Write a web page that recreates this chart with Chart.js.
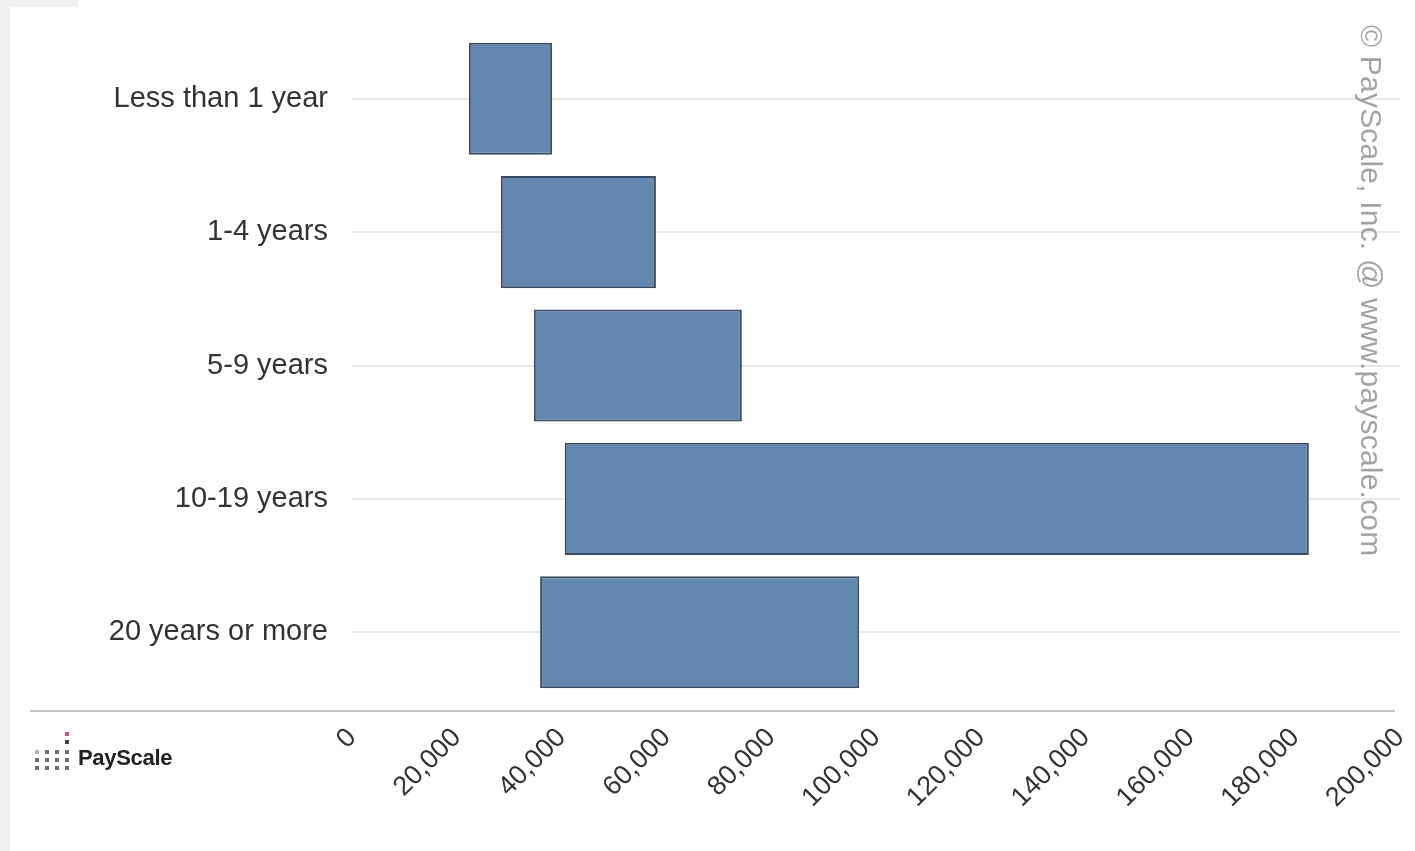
<!DOCTYPE html>
<html>
<head>
<meta charset="utf-8">
<script src="https://cdn.jsdelivr.net/npm/chart.js@4/dist/chart.umd.min.js"></script>
<style>
  html, body { margin: 0; padding: 0; background: #ffffff; }
  #wrap { position: relative; width: 1415px; height: 851px; overflow: hidden; }
  #wrap canvas { position: absolute; left: 0; top: 0; }
  #watermark {
    position: absolute; left: 1388px; top: 25px;
    transform-origin: 0 0; transform: rotate(90deg);
    font-family: "Liberation Sans", Arial, sans-serif; font-size: 30px;
    color: #a3a3a3; white-space: nowrap; letter-spacing: 0.2px;
  }
  #logo {
    position: absolute; left: 78px; top: 745px;
    font-family: "Liberation Sans", Arial, sans-serif; font-size: 22px; font-weight: bold;
    color: #222; white-space: nowrap; letter-spacing: -0.3px;
  }
</style>
</head>
<body>
<div id="wrap">
  <canvas id="c" width="1415" height="851"></canvas>
  <div id="watermark">© PayScale, Inc. @ www.payscale.com</div>
  <div id="logo">PayScale</div>
</div>
<script>
const categories = ["Less than 1 year", "1-4 years", "5-9 years", "10-19 years", "20 years or more"];
const rangeLow  = [22300, 28400, 34700, 40600, 35900];
const rangeHigh = [38200, 58000, 74400, 182600, 96800];
const xTicks = [0, 20000, 40000, 60000, 80000, 100000, 120000, 140000, 160000, 180000, 200000];

const decor = {
  id: 'decor',
  beforeDraw(chart) {
    const ctx = chart.ctx;
    ctx.save();
    ctx.fillStyle = '#ffffff';
    ctx.fillRect(0, 0, chart.width, chart.height);
    ctx.fillStyle = '#f2f1ef';
    ctx.fillRect(0, 0, 10, chart.height);
    ctx.fillRect(0, 0, 78, 7);
    ctx.restore();
  },
  afterDraw(chart) {
    const ctx = chart.ctx;
    ctx.save();
    // bottom separator line
    ctx.strokeStyle = '#c2c2c2';
    ctx.lineWidth = 2;
    ctx.beginPath();
    ctx.moveTo(30, 711);
    ctx.lineTo(chart.chartArea.right - 5, 711);
    ctx.stroke();
    // logo dots
    const cols = [37, 47, 57, 67];
    const rows = [752, 760, 768];
    cols.forEach((x, c) => rows.forEach((y, r) => {
      ctx.fillStyle = (c === 0 && r === 0) ? '#b5b5b5' : '#6e6e6e';
      ctx.fillRect(x - 2, y - 2, 4, 4);
    }));
    ctx.fillStyle = '#444';
    ctx.fillRect(65, 740, 4, 4);
    ctx.fillStyle = '#c75a70';
    ctx.fillRect(65, 732, 4, 4);
    ctx.restore();
  }
};

new Chart(document.getElementById('c'), {
  type: 'bar',
  data: {
    labels: categories,
    datasets: [{
      data: categories.map((_, i) => [rangeLow[i], rangeHigh[i]]),
      backgroundColor: '#6489b1',
      borderColor: '#3b4c61',
      borderWidth: 2,
      borderSkipped: false,
      categoryPercentage: 1,
      barPercentage: 0.84
    }]
  },
  options: {
    indexAxis: 'y',
    responsive: false,
    animation: false,
    devicePixelRatio: 1,
    layout: { padding: { top: 32, right: 15, left: 0, bottom: 0 } },
    plugins: { legend: { display: false }, tooltip: { enabled: false } },
    scales: {
      x: {
        type: 'linear',
        min: 0, max: 200000,
        afterBuildTicks(scale) { scale.ticks = xTicks.map(v => ({ value: v })); },
        afterFit(scale) { scale.height = 152; scale.paddingLeft = 0; scale.paddingRight = 0; },
        grid: { display: false },
        border: { display: false },
        ticks: {
          minRotation: 45, maxRotation: 45,
          padding: 15,
          color: '#333',
          font: { family: '"Liberation Sans", Arial, sans-serif', size: 27 },
          callback: v => v.toLocaleString('en-US')
        }
      },
      y: {
        afterFit(scale) { scale.width = 352; scale.paddingTop = 0; scale.paddingBottom = 0; },
        grid: { display: true, offset: false, color: '#e9e9e9', lineWidth: 2, drawTicks: false },
        border: { display: false },
        ticks: {
          padding: 24,
          color: '#333',
          font: { family: '"Liberation Sans", Arial, sans-serif', size: 29 }
        }
      }
    }
  },
  plugins: [decor]
});
</script>
</body>
</html>
